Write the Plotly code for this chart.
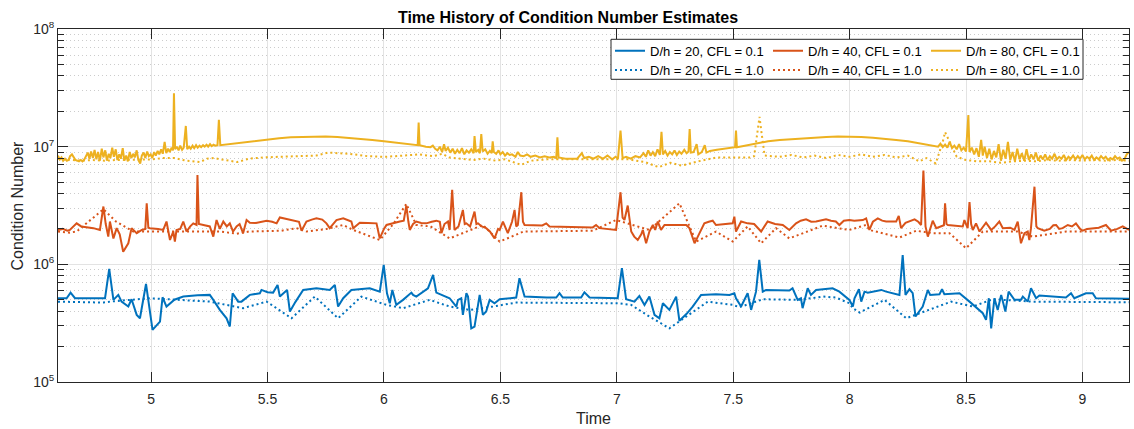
import plotly.graph_objects as go

# ---------------- data ----------------
t_20_01 = [4.600, 4.637, 4.654, 4.673, 4.802, 4.820, 4.838, 4.859, 4.873, 4.890, 4.902, 4.916, 4.938, 4.952,
           4.978, 5.006, 5.038, 5.049, 5.066, 5.100, 5.138, 5.200, 5.252, 5.267, 5.295, 5.324, 5.338, 5.350,
           5.374, 5.388, 5.424, 5.467, 5.474, 5.500, 5.524, 5.543, 5.553, 5.584, 5.596, 5.620, 5.653, 5.710,
           5.767, 5.789, 5.803, 5.825, 5.860, 5.939, 5.982, 5.999, 6.013, 6.025, 6.036, 6.053, 6.082, 6.118,
           6.125, 6.139, 6.189, 6.211, 6.225, 6.282, 6.311, 6.318, 6.332, 6.339, 6.354, 6.361, 6.375, 6.389,
           6.411, 6.425, 6.439, 6.454, 6.475, 6.497, 6.568, 6.582, 6.604, 6.700, 6.740, 6.754, 6.768, 6.847,
           6.861, 6.883, 7.004, 7.022, 7.040, 7.076, 7.097, 7.119, 7.140, 7.162, 7.183, 7.198, 7.226, 7.255,
           7.269, 7.300, 7.326, 7.362, 7.426, 7.484, 7.505, 7.512, 7.534, 7.562, 7.577, 7.598, 7.612, 7.627,
           7.641, 7.741, 7.755, 7.777, 7.791, 7.798, 7.820, 7.834, 7.856, 7.927, 7.956, 7.999, 8.014, 8.021,
           8.040, 8.050, 8.064, 8.078, 8.136, 8.157, 8.214, 8.228, 8.240, 8.257, 8.271, 8.283, 8.314, 8.336,
           8.346, 8.386, 8.397, 8.407, 8.472, 8.515, 8.572, 8.586, 8.598, 8.608, 8.622, 8.636, 8.651, 8.669,
           8.683, 8.708, 8.736, 8.744, 8.765, 8.779, 8.801, 8.815, 8.929, 8.951, 8.965, 9.015, 9.044, 9.058,
           9.200]
k_20_01 = [5.15e5, 5.15e5, 5.75e5, 5.15e5, 5.15e5, 9.14e5, 4.99e5, 5.5e5, 4.82e5, 4.6e5, 4.38e5, 5.05e5, 3.72e5, 3.48e5,
           6.81e5, 2.77e5, 3.26e5, 5.25e5, 4.38e5, 5.0e5, 5.32e5, 5.45e5, 5.5e5, 4.99e5, 4.1e5, 3.48e5, 2.96e5, 5.68e5,
           4.82e5, 4.82e5, 5.5e5, 5.68e5, 6.06e5, 5.8e5, 5.75e5, 6.68e5, 5.32e5, 6.06e5, 3.97e5, 4.8e5, 6.06e5, 6.26e5,
           6.06e5, 6.68e5, 4.38e5, 5.15e5, 6.06e5, 6.26e5, 5.86e5, 9.88e5, 5.68e5, 4.67e5, 6.06e5, 4.52e5, 4.99e5, 5.75e5,
           5.5e5, 5.32e5, 6.26e5, 8.13e5, 5.75e5, 5.15e5, 4.38e5, 4.99e5, 5.15e5, 3.72e5, 5.68e5, 5.32e5, 2.86e5, 2.96e5,
           5.5e5, 3.72e5, 3.97e5, 4.99e5, 4.67e5, 5.05e5, 5.22e5, 7.62e5, 5.32e5, 5.22e5, 5.22e5, 5.68e5, 5.22e5, 5.22e5,
           5.79e5, 5.22e5, 5.15e5, 9.27e5, 5.05e5, 4.82e5, 5.39e5, 4.52e5, 5.32e5, 3.72e5, 3.48e5, 4.67e5, 4.1e5, 5.32e5,
           3.31e5, 3.8e5, 4.38e5, 5.5e5, 5.57e5, 5.5e5, 5.68e5, 5.15e5, 4.38e5, 5.68e5, 4.1e5, 5.86e5, 1.09e6, 5.86e5,
           6.06e5, 5.98e5, 6.26e5, 4.99e5, 5.15e5, 4.24e5, 6.26e5, 5.5e5, 6.06e5, 6.26e5, 5.86e5, 4.99e5, 4.38e5, 5.15e5,
           6.14e5, 4.82e5, 5.86e5, 5.75e5, 6.06e5, 5.86e5, 5.5e5, 1.2e6, 5.5e5, 6.14e5, 5.68e5, 3.6e5, 4.38e5, 6.06e5,
           5.5e5, 5.57e5, 6.14e5, 5.57e5, 5.68e5, 4.82e5, 3.84e5, 3.37e5, 5.15e5, 2.86e5, 5.15e5, 4.1e5, 5.5e5, 3.97e5,
           5.86e5, 4.99e5, 4.99e5, 5.32e5, 4.82e5, 6.26e5, 5.15e5, 5.43e5, 5.22e5, 5.68e5, 5.15e5, 5.68e5, 5.68e5, 5.15e5,
           5.09e5]

t_40_01 = [4.600, 4.620, 4.640, 4.651, 4.680, 4.700, 4.752, 4.780, 4.795, 4.805, 4.816, 4.823, 4.838, 4.852,
           4.865, 4.880, 4.902, 4.916, 4.938, 4.960, 4.975, 4.981, 4.988, 4.995, 5.030, 5.052, 5.066, 5.081,
           5.095, 5.102, 5.109, 5.125, 5.138, 5.152, 5.168, 5.181, 5.195, 5.199, 5.205, 5.230, 5.252, 5.267,
           5.281, 5.295, 5.310, 5.325, 5.338, 5.352, 5.367, 5.380, 5.395, 5.410, 5.424, 5.450, 5.496, 5.520,
           5.539, 5.553, 5.575, 5.610, 5.635, 5.646, 5.667, 5.690, 5.710, 5.735, 5.753, 5.767, 5.796, 5.825,
           5.850, 5.860, 5.868, 5.896, 5.930, 5.968, 5.982, 6.000, 6.011, 6.040, 6.068, 6.085, 6.096, 6.105,
           6.111, 6.125, 6.139, 6.160, 6.182, 6.205, 6.225, 6.240, 6.247, 6.260, 6.275,
           6.282, 6.293, 6.303, 6.320, 6.339, 6.347, 6.354, 6.370, 6.389, 6.397, 6.404, 6.420, 6.439, 6.455,
           6.475, 6.490, 6.497, 6.511, 6.532, 6.550, 6.561, 6.568, 6.575, 6.590, 6.597, 6.604, 6.680, 6.697,
           6.711, 6.800, 6.897, 6.911, 6.926, 6.997, 7.016, 7.025, 7.033, 7.047, 7.062, 7.075, 7.090, 7.105,
           7.112, 7.126, 7.140, 7.155, 7.165, 7.176, 7.190, 7.205, 7.226, 7.260, 7.298, 7.312, 7.334, 7.348,
           7.376, 7.395, 7.412, 7.426, 7.460, 7.498, 7.505, 7.512, 7.534, 7.562, 7.590, 7.620, 7.648, 7.680,
           7.713, 7.741, 7.770, 7.790, 7.813, 7.835, 7.856, 7.880, 7.899, 7.920, 7.941, 7.956, 7.975, 7.999,
           8.020, 8.057, 8.071, 8.085, 8.100, 8.121, 8.140, 8.157, 8.180, 8.200, 8.211, 8.221, 8.240, 8.257,
           8.279, 8.295, 8.307, 8.317, 8.326, 8.336, 8.357, 8.372, 8.390, 8.405, 8.410, 8.416, 8.422, 8.460,
           8.486, 8.493, 8.507, 8.515, 8.522, 8.529, 8.543, 8.558, 8.586, 8.608, 8.625, 8.643, 8.658, 8.690,
           8.708, 8.722, 8.736, 8.751, 8.765, 8.772, 8.779, 8.794, 8.802, 8.808, 8.836, 8.860, 8.875, 8.887,
           8.900, 8.915, 8.937, 8.955, 8.972, 8.990, 9.001, 9.020, 9.044, 9.070, 9.101, 9.115, 9.123, 9.150,
           9.173, 9.200]
k_40_01 = [1.96e6, 2.0e6, 1.93e6, 1.96e6, 2.23e6, 2.1e6, 2.03e6, 1.96e6, 3.1e6, 2.2e6, 1.72e6, 2.31e6, 1.66e6, 2.03e6,
           1.8e6, 1.28e6, 1.51e6, 2.03e6, 1.84e6, 1.96e6, 2.0e6, 3.3e6, 2.05e6, 2.03e6, 2.0e6, 1.96e6, 2.31e6, 1.61e6,
           1.9e6, 1.56e6, 1.96e6, 2.0e6, 2.31e6, 1.9e6, 2.1e6, 2.23e6, 2.16e6, 5.75e6, 2.2e6, 2.16e6, 2.1e6, 1.72e6,
           2.38e6, 2.0e6, 2.31e6, 2.1e6, 2.23e6, 1.9e6, 2.1e6, 2.2e6, 1.84e6, 2.38e6, 2.26e6, 2.25e6, 2.35e6, 2.3e6,
           2.23e6, 2.5e6, 2.45e6, 2.38e6, 2.3e6, 1.93e6, 2.31e6, 2.4e6, 2.46e6, 2.4e6, 2.23e6, 2.03e6, 2.38e6, 2.46e6,
           2.35e6, 2.31e6, 2.03e6, 2.26e6, 2.25e6, 2.23e6, 1.66e6, 2.0e6, 2.16e6, 2.25e6, 2.31e6, 2.35e6, 3.15e6, 2.3e6,
           1.96e6, 2.2e6, 2.31e6, 2.25e6, 2.23e6, 2.3e6, 2.35e6, 2.3e6, 1.84e6, 2.2e6, 2.31e6,
           1.96e6, 4.29e6, 1.96e6, 2.1e6, 2.9e6, 2.2e6, 2.23e6, 2.1e6, 2.81e6, 2.2e6, 2.23e6, 2.1e6, 2.03e6, 1.9e6,
           1.66e6, 2.0e6, 1.96e6, 2.31e6, 1.84e6, 2.3e6, 2.9e6, 2.1e6, 2.16e6, 4.1e6, 2.3e6, 2.16e6, 2.14e6, 2.23e6,
           2.1e6, 2.08e6, 2.06e6, 2.16e6, 2.03e6, 1.96e6, 4.1e6, 2.5e6, 2.38e6, 3.16e6, 1.9e6, 1.72e6, 1.61e6, 1.8e6,
           1.96e6, 1.51e6, 1.9e6, 2.16e6, 1.96e6, 2.31e6, 1.96e6, 2.16e6, 2.16e6, 2.17e6, 2.16e6, 2.03e6, 1.51e6, 1.72e6,
           2.23e6, 2.3e6, 2.35e6, 2.16e6, 2.2e6, 2.23e6, 2.54e6, 1.9e6, 2.31e6, 2.23e6, 2.2e6, 1.9e6, 2.31e6, 2.2e6,
           2.16e6, 1.96e6, 2.23e6, 2.35e6, 2.41e6, 2.3e6, 2.31e6, 2.38e6, 2.41e6, 2.35e6, 2.31e6, 2.16e6, 2.35e6, 2.38e6,
           2.35e6, 2.38e6, 2.46e6, 1.96e6, 2.3e6, 2.46e6, 2.35e6, 2.31e6, 2.3e6, 2.31e6, 2.58e6, 2.03e6, 2.25e6, 2.31e6,
           2.41e6, 2.3e6, 2.16e6, 6.26e6, 2.1e6, 1.72e6, 2.35e6, 2.03e6, 2.1e6, 2.15e6, 3.3e6, 2.2e6, 2.16e6, 2.12e6,
           2.1e6, 2.38e6, 2.03e6, 3.39e6, 2.2e6, 1.96e6, 2.23e6, 1.9e6, 2.26e6, 1.96e6, 2.1e6, 2.31e6, 2.03e6, 2.05e6,
           1.96e6, 2.31e6, 1.51e6, 1.84e6, 1.9e6, 1.61e6, 2.03e6, 4.57e6, 2.1e6, 2.03e6, 1.93e6, 2.0e6, 2.15e6, 2.16e6,
           2.0e6, 2.03e6, 2.16e6, 2.1e6, 2.23e6, 2.0e6, 1.93e6, 2.0e6, 2.03e6, 2.05e6, 2.16e6, 2.0e6, 1.93e6, 2.0e6,
           2.1e6, 1.96e6]

t_80_01 = [4.600, 4.608, 4.615, 4.622, 4.630, 4.638, 4.645, 4.652, 4.660, 4.668, 4.675, 4.683, 4.690, 4.698,
           4.705, 4.713, 4.720, 4.728, 4.735, 4.742, 4.750, 4.757, 4.765, 4.772, 4.780, 4.788, 4.795, 4.803,
           4.810, 4.818, 4.825, 4.833, 4.840, 4.848, 4.855, 4.863, 4.870, 4.878, 4.885, 4.893, 4.900, 4.908,
           4.915, 4.923, 4.930, 4.938, 4.945, 4.953, 4.960, 4.968, 4.975, 4.983, 4.990, 4.998, 5.005, 5.013,
           5.020, 5.028, 5.035, 5.043, 5.050, 5.058, 5.065, 5.073, 5.080, 5.088, 5.094, 5.098, 5.103, 5.110,
           5.118, 5.125, 5.133, 5.140, 5.149, 5.155, 5.163, 5.170, 5.178, 5.185, 5.193, 5.200, 5.208, 5.215,
           5.223, 5.230, 5.238, 5.245, 5.253, 5.260, 5.268, 5.275, 5.285, 5.291, 5.297, 5.35, 5.40, 5.45,
           5.50, 5.55, 5.60, 5.65, 5.70, 5.75, 5.80, 5.85, 5.90, 5.95, 6.00, 6.05, 6.10, 6.145, 6.149, 6.153,
           6.18, 6.20, 6.21, 6.22, 6.230, 6.240, 6.250, 6.258, 6.265, 6.275, 6.285, 6.295, 6.305, 6.315,
           6.325, 6.335, 6.345, 6.355, 6.365, 6.375, 6.385, 6.389, 6.395, 6.405, 6.412, 6.418, 6.424, 6.435,
           6.445, 6.455, 6.463, 6.467, 6.472, 6.482, 6.492, 6.500, 6.510, 6.520, 6.530, 6.540, 6.550, 6.565,
           6.575, 6.585, 6.600, 6.615, 6.630, 6.650, 6.670, 6.690, 6.710, 6.730, 6.740, 6.745, 6.750, 6.780,
           6.810, 6.830, 6.850, 6.860, 6.880, 6.900, 6.920, 6.940, 6.960, 6.980, 6.995, 7.005, 7.016, 7.025,
           7.040, 7.060, 7.080, 7.100, 7.115, 7.125, 7.135, 7.145, 7.155, 7.165, 7.175, 7.185, 7.192, 7.198,
           7.208, 7.218, 7.228, 7.238, 7.248, 7.258, 7.268, 7.278, 7.290, 7.300, 7.308, 7.313, 7.318, 7.330,
           7.343, 7.350, 7.365, 7.378, 7.385, 7.40, 7.43, 7.46, 7.49, 7.508, 7.512, 7.516, 7.55, 7.58,
           7.61, 7.65, 7.70, 7.75, 7.80, 7.85, 7.90, 7.95, 8.00, 8.05, 8.10, 8.15, 8.20, 8.25,
           8.30, 8.35, 8.37, 8.38, 8.39, 8.40, 8.41, 8.42, 8.43, 8.44, 8.45, 8.46, 8.47, 8.48,
           8.49, 8.50, 8.51, 8.515, 8.525, 8.535, 8.545, 8.555, 8.565, 8.572, 8.58, 8.59, 8.60, 8.61,
           8.62, 8.63, 8.64, 8.65, 8.66, 8.67, 8.68, 8.69, 8.70, 8.71, 8.72, 8.73, 8.74, 8.75,
           8.76, 8.77, 8.78, 8.79, 8.80, 8.81, 8.82, 8.83, 8.84, 8.85, 8.86, 8.87, 8.88, 8.89,
           8.90, 8.91, 8.92, 8.93, 8.94, 8.95, 8.96, 8.97, 8.98, 8.99, 9.00, 9.01, 9.02, 9.03,
           9.04, 9.05, 9.06, 9.07, 9.08, 9.09, 9.10, 9.11, 9.12, 9.13, 9.14, 9.15, 9.16, 9.17,
           9.18, 9.19, 9.20]
k_80_01 = [8.4e6, 7.8e6, 8.1e6, 7.6e6, 7.9e6, 7.6e6, 7.7e6, 8.3e6, 8.6e6, 8.2e6, 7.7e6, 7.6e6, 7.5e6, 7.7e6,
           7.5e6, 7.8e6, 8.4e6, 8.9e6, 7.9e6, 9.1e6, 8.0e6, 9.4e6, 7.8e6, 9.0e6, 7.6e6, 9.6e6, 8.1e6, 9.3e6,
           7.6e6, 8.7e6, 8.0e6, 9.8e6, 8.2e6, 9.5e6, 7.7e6, 8.6e6, 7.9e6, 9.7e6, 7.6e6, 8.4e6, 7.5e6, 9.0e6,
           8.0e6, 8.7e6, 8.1e6, 9.3e6, 7.7e6, 7.2e6, 8.4e6, 8.9e6, 8.0e6, 9.1e6, 8.3e6, 8.6e6, 8.0e6, 9.0e6,
           8.4e6, 9.2e6, 8.6e6, 9.5e6, 8.7e6, 1.1e7, 8.8e6, 9.6e6, 9.0e6, 9.8e6, 9.3e6, 2.85e7, 9.5e6, 1.0e7,
           9.3e6, 1.02e7, 9.4e6, 9.8e6, 1.5e7, 9.5e6, 1.0e7, 9.6e6, 1.02e7, 9.7e6, 1.03e7, 9.8e6, 1.02e7, 9.9e6,
           1.03e7, 1.0e7, 1.04e7, 1.0e7, 1.05e7, 1.01e7, 1.04e7, 1.02e7, 1.03e7, 1.69e7, 1.03e7, 1.06e7, 1.09e7, 1.13e7,
           1.16e7, 1.18e7, 1.2e7, 1.21e7, 1.22e7, 1.22e7, 1.21e7, 1.19e7, 1.17e7, 1.14e7, 1.11e7, 1.08e7, 1.05e7, 1.03e7, 1.6e7, 1.03e7,
           1.0e7, 9.9e6, 1.02e7, 9.6e6, 9.3e6, 1.0e7, 9.0e6, 1.05e7, 9.2e6, 9.8e6, 8.9e6, 9.6e6, 8.7e6, 9.4e6,
           8.8e6, 9.7e6, 8.6e6, 9.3e6, 8.9e6, 9.5e6, 8.8e6, 1.23e7, 9.0e6, 9.4e6, 8.8e6, 1.28e7, 9.1e6, 9.5e6,
           8.7e6, 9.2e6, 8.8e6, 1.11e7, 9.0e6, 8.7e6, 9.3e6, 8.6e6, 9.0e6, 8.4e6, 8.8e6, 8.5e6, 8.6e6, 8.2e6,
           9.0e6, 8.4e6, 8.3e6, 8.6e6, 8.2e6, 8.4e6, 8.1e6, 8.3e6, 8.1e6, 8.2e6, 8.0e6, 1.2e7, 8.1e6, 7.9e6,
           7.9e6, 7.9e6, 8.8e6, 8.0e6, 8.2e6, 7.9e6, 8.3e6, 7.9e6, 8.4e6, 7.8e6, 8.2e6, 7.9e6, 1.37e7, 8.0e6,
           8.2e6, 7.9e6, 8.3e6, 8.1e6, 8.8e6, 8.2e6, 9.3e6, 8.4e6, 9.0e6, 8.3e6, 9.5e6, 8.5e6, 1.34e7, 8.6e6,
           9.2e6, 8.4e6, 9.0e6, 8.6e6, 9.3e6, 8.5e6, 9.1e6, 8.7e6, 9.4e6, 8.8e6, 9.1e6, 1.41e7, 8.9e6, 9.0e6,
           1.05e7, 8.6e6, 9.0e6, 1.03e7, 8.9e6, 9.2e6, 9.4e6, 9.6e6, 9.8e6, 9.9e6, 1.37e7, 9.9e6, 1.02e7, 1.05e7,
           1.08e7, 1.11e7, 1.14e7, 1.16e7, 1.18e7, 1.2e7, 1.21e7, 1.22e7, 1.22e7, 1.21e7, 1.19e7, 1.17e7, 1.14e7, 1.11e7,
           1.07e7, 1.03e7, 1.02e7, 1.0e7, 1.06e7, 9.9e6, 1.04e7, 9.8e6, 1.1e7, 9.7e6, 1.02e7, 9.5e6, 1.05e7, 9.3e6,
           9.8e6, 9.1e6, 1.86e7, 9.0e6, 9.8e6, 8.6e6, 9.7e6, 8.2e6, 1.14e7, 8.4e6, 1.0e7, 8.0e6, 9.6e6, 7.8e6,
           9.2e6, 8.1e6, 1.05e7, 7.6e6, 9.4e6, 7.9e6, 1.1e7, 7.7e6, 9.0e6, 7.5e6, 9.6e6, 7.8e6, 8.8e6, 7.6e6,
           9.5e6, 7.7e6, 8.6e6, 7.8e6, 8.9e6, 7.6e6, 8.4e6, 7.8e6, 8.6e6, 7.7e6, 8.3e6, 7.9e6, 8.7e6, 7.8e6,
           8.2e6, 7.9e6, 8.5e6, 7.7e6, 8.2e6, 7.9e6, 8.4e6, 7.8e6, 8.3e6, 7.9e6, 8.5e6, 7.8e6, 8.2e6, 7.9e6,
           8.4e6, 7.7e6, 8.1e6, 7.8e6, 8.3e6, 7.9e6, 8.2e6, 7.7e6, 8.0e6, 7.8e6, 8.3e6, 7.9e6, 8.1e6, 7.6e6,
           7.8e6, 8.6e6, 9.0e6]

t_20_10 = [4.600, 4.795, 4.823, 4.995, 5.252, 5.395, 5.496, 5.603, 5.703, 5.803, 5.903, 6.011, 6.082, 6.196,
           6.282, 6.368, 6.468, 6.568, 7.004, 7.062, 7.140, 7.226, 7.391, 7.498, 7.527, 7.627, 7.785, 7.885,
           7.941, 7.999, 8.014, 8.043, 8.150, 8.243, 8.436, 8.529, 8.615, 8.786, 9.200]
k_20_10 = [4.82e5, 4.73e5, 4.82e5, 5.15e5, 4.82e5, 4.24e5, 4.82e5, 3.48e5, 5.32e5, 3.48e5, 5.32e5, 4.52e5, 4.24e5, 4.99e5,
           4.38e5, 4.1e5, 4.38e5, 4.73e5, 4.67e5, 4.52e5, 3.6e5, 2.86e5, 4.82e5, 4.52e5, 4.32e5, 5.05e5, 4.99e5, 5.32e5,
           5.22e5, 4.67e5, 4.24e5, 3.89e5, 4.99e5, 3.48e5, 4.82e5, 4.38e5, 5.05e5, 4.82e5, 4.76e5]

t_40_10 = [4.600, 4.651, 4.680, 4.795, 4.850, 4.923, 5.000, 5.100, 5.200, 5.300, 5.367, 5.420, 5.560, 5.624,
           5.667, 5.753, 5.825, 5.868, 5.982, 6.040, 6.096, 6.139, 6.200, 6.270, 6.282, 6.425, 6.497, 6.600,
           6.897, 6.997, 7.140, 7.269, 7.341, 7.426, 7.498, 7.562, 7.620, 7.684, 7.741, 7.884, 7.999, 8.071,
           8.085, 8.214, 8.286, 8.357, 8.429, 8.500, 8.572, 8.722, 8.786, 8.930, 9.200]
k_40_10 = [1.9e6, 1.86e6, 1.9e6, 2.94e6, 2.3e6, 1.9e6, 1.9e6, 1.9e6, 1.9e6, 1.9e6, 1.82e6, 1.9e6, 1.93e6, 2.03e6,
           1.9e6, 2.0e6, 2.16e6, 1.96e6, 1.61e6, 2.2e6, 3.26e6, 2.16e6, 2.1e6, 1.72e6, 1.66e6, 2.16e6, 1.56e6, 1.9e6,
           1.93e6, 2.38e6, 1.96e6, 3.3e6, 1.56e6, 1.9e6, 1.56e6, 2.1e6, 1.51e6, 2.03e6, 1.66e6, 2.13e6, 1.96e6, 2.16e6,
           1.96e6, 1.69e6, 1.93e6, 1.84e6, 1.84e6, 1.37e6, 1.9e6, 1.9e6, 1.72e6, 1.9e6, 1.9e6]

t_80_10 = [4.60, 4.65, 4.70, 4.75, 4.80, 4.85, 4.90, 4.95, 5.00, 5.05, 5.10, 5.15, 5.21, 5.24,
           5.27, 5.30, 5.37, 5.42, 5.48, 5.55, 5.62, 5.71, 5.76, 5.85, 5.93, 6.00, 6.05, 6.10,
           6.15, 6.21, 6.25, 6.28, 6.33, 6.38, 6.43, 6.48, 6.52, 6.59, 6.63, 6.70, 6.80, 6.90,
           7.00, 7.05, 7.12, 7.18, 7.23, 7.28, 7.35, 7.43, 7.50, 7.57, 7.59, 7.605, 7.613, 7.622,
           7.635, 7.70, 7.75, 7.80, 7.85, 7.90, 7.95, 8.00, 8.05, 8.10, 8.15, 8.20, 8.25, 8.30,
           8.33, 8.37, 8.40, 8.41, 8.43, 8.46, 8.50, 8.55, 8.60, 8.65, 8.70, 8.75, 8.80, 8.85,
           8.90, 8.95, 9.00, 9.05, 9.10, 9.15, 9.20]
k_80_10 = [7.9e6, 7.7e6, 7.6e6, 7.7e6, 7.6e6, 7.7e6, 7.7e6, 7.7e6, 7.8e6, 8.0e6, 8.0e6, 7.6e6, 7.4e6, 7.9e6,
           8.0e6, 7.8e6, 7.4e6, 7.9e6, 8.1e6, 8.2e6, 8.3e6, 8.4e6, 8.9e6, 8.7e6, 8.3e6, 8.2e6, 8.3e6, 8.4e6,
           8.6e6, 8.3e6, 8.7e6, 8.1e6, 7.9e6, 7.7e6, 7.9e6, 7.6e6, 7.8e6, 7.0e6, 7.6e6, 7.8e6, 7.8e6, 7.8e6,
           7.7e6, 7.8e6, 7.4e6, 6.7e6, 7.3e6, 6.9e6, 7.5e6, 8.1e6, 8.1e6, 8.1e6, 8.3e6, 1.3e7, 1.79e7, 1.3e7,
           8.4e6, 8.2e6, 8.5e6, 8.1e6, 8.4e6, 8.0e6, 8.5e6, 8.2e6, 8.6e6, 8.2e6, 8.5e6, 8.1e6, 8.4e6, 7.5e6,
           8.0e6, 7.2e6, 1.1e7, 1.33e7, 1.1e7, 8.2e6, 7.7e6, 7.5e6, 7.5e6, 7.3e6, 7.5e6, 7.6e6, 7.5e6, 7.7e6,
           7.6e6, 7.7e6, 7.6e6, 7.7e6, 7.6e6, 7.7e6, 7.6e6]

series_names = ["D/h = 20, CFL = 0.1", "D/h = 40, CFL = 0.1", "D/h = 80, CFL = 0.1",
                "D/h = 20, CFL = 1.0", "D/h = 40, CFL = 1.0", "D/h = 80, CFL = 1.0"]
series_t = [t_20_01, t_40_01, t_80_01, t_20_10, t_40_10, t_80_10]
series_k = [k_20_01, k_40_01, k_80_01, k_20_10, k_40_10, k_80_10]
colors = ["#0072BD", "#D95319", "#EDB120", "#0072BD", "#D95319", "#EDB120"]
dashes = ["solid", "solid", "solid", "2px,3px", "2px,3px", "2px,3px"]
legend_ids = ["legend", "legend", "legend", "legend2", "legend2", "legend2"]

x_ticks = [5, 5.5, 6, 6.5, 7, 7.5, 8, 8.5, 9]
y_ticks = [1e5, 1e6, 1e7, 1e8]
y_tick_text = ["10<sup>5</sup>", "10<sup>6</sup>", "10<sup>7</sup>", "10<sup>8</sup>"]
y_minor_ticks = [m * 10 ** e for e in (5, 6, 7) for m in range(2, 10)]

# ---------------- figure ----------------
FONT = "Liberation Sans, Arial, Helvetica, sans-serif"
AX = "#262626"

fig = go.Figure()
for name, tt, kk, c, d, lg in zip(series_names, series_t, series_k, colors, dashes, legend_ids):
    fig.add_trace(go.Scatter(x=tt, y=kk, mode="lines", name=name, legend=lg,
                             line=dict(color=c, width=2, dash=d)))

W, H = 1134, 429
L, R, T, B = 58, 5, 29, 47
pw, ph = W - L - R, H - T - B

def px_x(p):
    return (p - L) / pw

def px_y(p):
    return 1 - (p - T) / ph

fig.update_layout(
    width=W, height=H,
    margin=dict(l=L, r=R, t=T, b=B),
    paper_bgcolor="white", plot_bgcolor="white",
    font=dict(family=FONT, size=14, color=AX),
    title=dict(text="<b>Time History of Condition Number Estimates</b>",
               x=568 / W, xref="container", xanchor="center", y=1 - 17 / H, yanchor="middle",
               font=dict(size=16, color="black")),
    xaxis=dict(range=[4.6, 9.2], tickmode="array", tickvals=x_ticks, ticks="inside", ticklen=10,
               tickcolor=AX, showline=True, linecolor=AX, linewidth=1, mirror="allticks",
               showgrid=True, gridcolor="#e3e3e3", gridwidth=1, zeroline=False, automargin=False,
               ticklabelstandoff=4, tickfont=dict(size=14, color=AX)),
    yaxis=dict(type="log", range=[5, 8], tickmode="array", tickvals=y_ticks, ticktext=y_tick_text,
               ticks="inside", ticklen=10, tickcolor=AX, automargin=False,
               showline=True, linecolor=AX, linewidth=1, mirror="allticks",
               showgrid=True, gridcolor="#e3e3e3", gridwidth=1, zeroline=False,
               tickfont=dict(size=14, color=AX),
               minor=dict(tickmode="array", tickvals=y_minor_ticks, ticks="inside", ticklen=6,
                          tickcolor=AX, showgrid=True, gridcolor="#cccccc",
                          griddash="1px,3px", gridwidth=1)),
    legend=dict(orientation="h", x=px_x(610), xanchor="left", y=px_y(50.7), yanchor="middle",
                entrywidth=113, entrywidthmode="pixels", bgcolor="rgba(0,0,0,0)", borderwidth=0,
                font=dict(size=13, color="black"), itemwidth=30),
    legend2=dict(orientation="h", x=px_x(610), xanchor="left", y=px_y(70), yanchor="middle",
                 entrywidth=113, entrywidthmode="pixels", bgcolor="rgba(0,0,0,0)", borderwidth=0,
                 font=dict(size=13, color="black"), itemwidth=30),
    shapes=[dict(type="rect", xref="paper", yref="paper", layer="above",
                 x0=px_x(611), x1=px_x(1083), y0=px_y(79.3), y1=px_y(39.3),
                 fillcolor="white", line=dict(color=AX, width=1))],
    annotations=[
        dict(text="Time", xref="paper", yref="paper", x=px_x(593), y=px_y(418),
             xanchor="center", yanchor="middle", showarrow=False, font=dict(size=16, color=AX)),
        dict(text="Condition Number", xref="paper", yref="paper", x=px_x(17), y=px_y(205.5),
             xanchor="center", yanchor="middle", textangle=-90, showarrow=False,
             font=dict(size=16, color=AX)),
    ],
    showlegend=True,
)

fig.write_html("out.html")
